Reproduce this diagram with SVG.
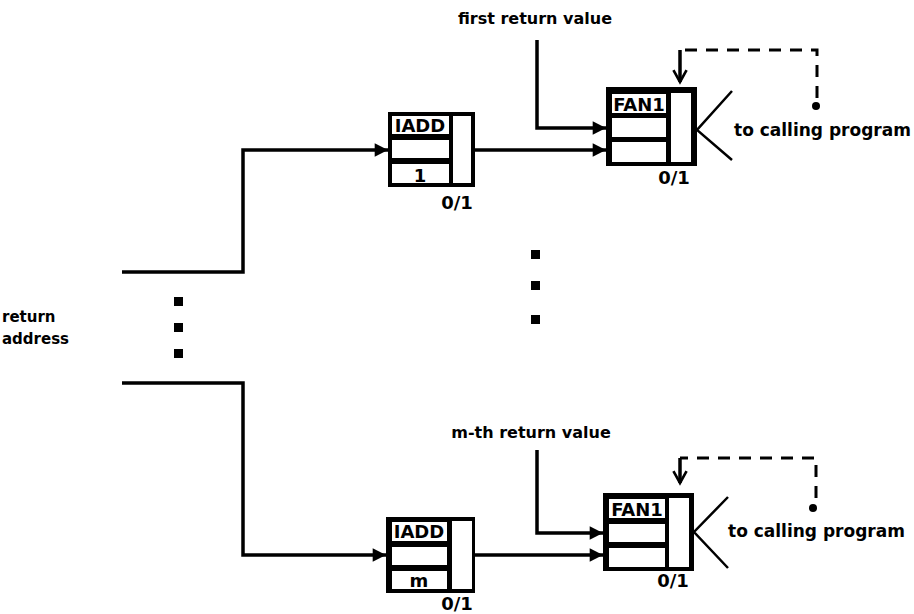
<svg xmlns="http://www.w3.org/2000/svg" width="914" height="614" viewBox="0 0 914 614">
<style>
.w{fill:none;stroke:#000;stroke-width:3.5;stroke-linejoin:miter}
.fan{fill:none;stroke:#000;stroke-width:2.5}
.d{fill:none;stroke:#000;stroke-width:3;stroke-dasharray:12,9}
.box{fill:#000}
.cell{fill:#fff}
.t{font-family:"DejaVu Sans",sans-serif;font-weight:bold;fill:#000}
.lbl{font-size:16px}
.call{font-size:17px}
.ra{font-size:15px}
.in{font-size:18px;text-anchor:middle}
.dot{fill:#000}
</style>
<defs>
<marker id="ah" viewBox="0 0 10 10" refX="10" refY="5" markerWidth="4.2" markerHeight="3.8" orient="auto" markerUnits="strokeWidth">
<path d="M0,0 L10,5 L0,10 Z" fill="#000"/>
</marker>
<marker id="va" viewBox="0 0 12 12" refX="10" refY="6" markerWidth="4.5" markerHeight="4.5" orient="auto" markerUnits="strokeWidth">
<path d="M1,1 L10,6 L1,11" fill="none" stroke="#000" stroke-width="2"/>
</marker>
</defs>
<rect width="914" height="614" fill="#fff"/>

<g id="connectors">
<polyline class="w" points="122,272 243,272 243,150 388,150" marker-end="url(#ah)"/>
<polyline class="w" points="122,383 243,383 243,555 386,555" marker-end="url(#ah)"/>
<line class="w" x1="475" y1="150" x2="606" y2="150" marker-end="url(#ah)"/>
<line class="w" x1="475" y1="555" x2="603" y2="555" marker-end="url(#ah)"/>
<polyline class="w" points="537,40 537,128 606,128" marker-end="url(#ah)"/>
<polyline class="w" points="537,450 537,533 603,533" marker-end="url(#ah)"/>
<polyline class="fan" points="732,91 697,130 732,160"/>
<polyline class="fan" points="728,497 694,532 728,568"/>
<path class="d" d="M817,98 L817,50 L680,50"/>
<path class="d" d="M816,498 L816,458 L680,458"/>
<path class="w" stroke-width="3" d="M680,50 L680,82" marker-end="url(#va)"/>
<path class="w" stroke-width="3" d="M680,458 L680,483" marker-end="url(#va)"/>
<circle cx="816" cy="106" r="4" fill="#000"/>
<circle cx="813" cy="508" r="4" fill="#000"/>
</g>

<g id="iadd-top">
<rect class="box" x="388" y="112" width="87" height="75"/>
<rect class="cell" x="392" y="116" width="57" height="18"/>
<rect class="cell" x="392" y="140" width="57" height="18"/>
<rect class="cell" x="392" y="164" width="57" height="19"/>
<rect class="cell" x="453" y="116" width="18" height="67"/>
<text class="t in" x="420" y="132">IADD</text>
<text class="t in" x="420" y="182">1</text>
<text class="t in" x="457" y="209">0/1</text>
</g>

<g id="fan1-top">
<rect class="box" x="606" y="87" width="91" height="79"/>
<rect class="cell" x="612" y="94" width="54" height="19"/>
<rect class="cell" x="612" y="118" width="54" height="19"/>
<rect class="cell" x="612" y="142" width="54" height="20"/>
<rect class="cell" x="671" y="93" width="20" height="69"/>
<text class="t in" x="639" y="111">FAN1</text>
<text class="t in" x="674" y="184">0/1</text>
</g>

<g id="iadd-bottom">
<rect class="box" x="386" y="517" width="89" height="76"/>
<rect class="cell" x="392" y="522" width="55" height="19"/>
<rect class="cell" x="392" y="547" width="55" height="18"/>
<rect class="cell" x="392" y="571" width="55" height="18"/>
<rect class="cell" x="452" y="521" width="20" height="68"/>
<text class="t in" x="419" y="538">IADD</text>
<text class="t in" x="419" y="587">m</text>
<text class="t in" x="457" y="610">0/1</text>
</g>

<g id="fan1-bottom">
<rect class="box" x="603" y="493" width="91" height="78"/>
<rect class="cell" x="609" y="499" width="56" height="19"/>
<rect class="cell" x="609" y="524" width="56" height="18"/>
<rect class="cell" x="609" y="548" width="56" height="19"/>
<rect class="cell" x="669" y="498" width="20" height="69"/>
<text class="t in" x="637" y="516">FAN1</text>
<text class="t in" x="673" y="587">0/1</text>
</g>

<g id="labels">
<text class="t lbl" x="535" y="24" text-anchor="middle">first return value</text>
<text class="t lbl" x="531" y="438" text-anchor="middle">m-th return value</text>
<text class="t call" x="734" y="136">to calling program</text>
<text class="t call" x="728" y="537">to calling program</text>
<text class="t ra" x="2" y="322">return</text>
<text class="t ra" x="2" y="344">address</text>
</g>

<g id="ellipsis">
<rect class="dot" x="174" y="297" width="9" height="9"/>
<rect class="dot" x="174" y="323" width="9" height="9"/>
<rect class="dot" x="174" y="349" width="9" height="9"/>
<rect class="dot" x="531" y="250" width="9" height="9"/>
<rect class="dot" x="531" y="281" width="9" height="9"/>
<rect class="dot" x="531" y="315" width="9" height="9"/>
</g>
</svg>
